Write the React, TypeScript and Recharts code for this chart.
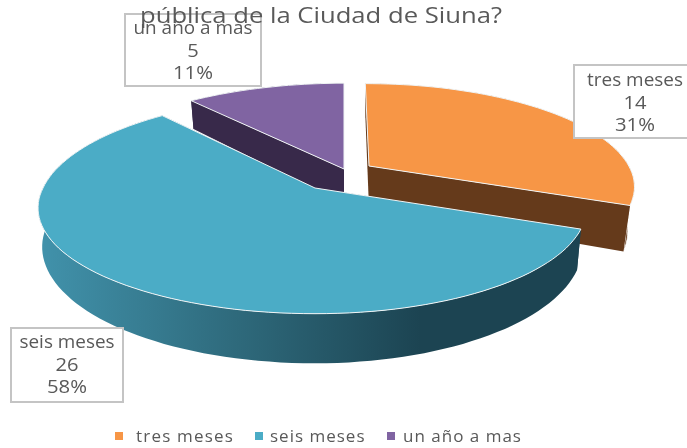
/**
 * 3D exploded pie: survey answers by time period.
 * Recharts gives each slice its angles, the custom shape projects them in perspective.
 */
import { PieChart, Pie, Legend } from 'recharts'

const categories = ['tres meses', 'seis meses', 'un año a mas']
const values = [14, 26, 5]
const topColors = ['#F79646', '#4BACC6', '#8064A2']
const wallColors = ['#653A1B', 'url(#blueRim)', '#38294A']
// purple is painted first, blue last, so the blue top hides the walls behind it
const drawOrder = [2, 0, 1]

const total = values.reduce((a, b) => a + b, 0)
const pieData = drawOrder.map((i) => ({
  name: categories[i],
  value: values[i],
  fill: topColors[i],
  wall: wallColors[i],
  idx: i,
}))

const CX = 340
const CY = 175
const RADIUS = 272
const PERSP = 0.1887
const RY = 102

// explode offset, size and small distortions of each slice
const sliceOx = [29, -25, 4]
const sliceOy = [-9, 13, -6]
const sliceScale = [0.96, 1, 1]
const sliceDepth = [42, 37, 35]
const sliceSkew = [0.045, 0, 0]
const sliceRight = [0.995, 0.98, 0.99]
const sliceBack = [1, 1.06, 1]
const sliceFloorX = [0.975, 0.985, 0.985]

const labelBoxes = [
  { x: 574, y: 65, w: 125, h: 73, tx: 635, base: 86, len: 96 },
  { x: 11, y: 328, w: 112, h: 74, tx: 67, base: 348, len: 95 },
  { x: 125, y: 14, w: 136, h: 72, tx: 193, base: 34, len: 119 },
]

function project(thetaDeg: number, i: number, bottom: boolean) {
  const t = (thetaDeg * Math.PI) / 180
  const w = 1 + PERSP * Math.sin(t)
  const s = sliceScale[i]
  let x = (s * RADIUS * Math.cos(t)) / w
  let y = (-s * RY * Math.sin(t)) / w
  if (x > 0) x *= sliceRight[i]
  if (y < 0) y *= sliceBack[i]
  x += y * sliceSkew[i]
  const ox = CX + sliceOx[i]
  const oy = CY + sliceOy[i]
  if (bottom) return [ox + x * sliceFloorX[i], oy + sliceDepth[i] + y * 1.1]
  return [ox + x, oy + y]
}

function toPath(pts: number[][]) {
  return 'M' + pts.map((p) => `${p[0].toFixed(1)},${p[1].toFixed(1)}`).join('L') + 'Z'
}

function Slice3D(props: any) {
  const { startAngle, endAngle, payload } = props
  const i = payload.idx
  const arc: number[] = []
  const steps = Math.ceil(Math.abs(endAngle - startAngle) / 2)
  for (let s = 0; s <= steps; s++) arc.push(startAngle + ((endAngle - startAngle) * s) / steps)

  const apex = [CX + sliceOx[i], CY + sliceOy[i]]
  const apexB = [apex[0], apex[1] + sliceDepth[i]]

  const topArc = arc.map((a) => project(a, i, false))
  const bottomArc = arc.map((a) => project(a, i, true))
  const last = arc.length - 1

  return (
    <g>
      <path
        d={toPath([...topArc, ...[...bottomArc].reverse()])}
        fill={payload.wall}
        stroke={i === 0 ? '#ffffff' : 'none'}
        strokeWidth={0.8}
      />
      <path d={toPath([apex, topArc[0], bottomArc[0], apexB])} fill={payload.wall} />
      <path d={toPath([apex, topArc[last], bottomArc[last], apexB])} fill={payload.wall} />
      <path d={toPath([apex, ...topArc])} fill={payload.fill} stroke="#f0f4f5" strokeWidth={1} />
    </g>
  )
}

function SliceLabel(props: any) {
  const i = props.payload ? props.payload.idx : props.idx
  const b = labelBoxes[i]
  const pct = `${Math.round((values[i] / total) * 100)}%`
  const textProps = {
    textAnchor: 'middle' as const,
    fontFamily: 'Open Sans',
    fontSize: 18,
    fill: '#595959',
    lengthAdjust: 'spacingAndGlyphs' as const,
  }
  return (
    <g>
      <rect x={b.x} y={b.y} width={b.w} height={b.h} fill="#ffffff" stroke="#c4c4c4" strokeWidth={2} />
      <text x={b.tx} y={b.base} textLength={b.len} {...textProps}>
        {categories[i]}
      </text>
      <text x={b.tx} y={b.base + 23} textLength={String(values[i]).length * 11.5} {...textProps}>
        {values[i]}
      </text>
      <text x={b.tx} y={b.base + 45} textLength={40} {...textProps}>
        {pct}
      </text>
    </g>
  )
}

function LegendRow() {
  return (
    <div style={{ position: 'relative', height: 24, fontFamily: 'Open Sans', fontSize: 17, color: '#595959' }}>
      {categories.map((c, i) => (
        <span key={c}>
          <span
            style={{
              position: 'absolute',
              left: [115, 255, 387][i],
              top: 8,
              width: 8,
              height: 8,
              background: topColors[i],
            }}
          />
          <span
            style={{
              position: 'absolute',
              left: [136, 270, 403][i],
              top: 0,
              lineHeight: '24px',
              whiteSpace: 'nowrap',
              letterSpacing: [1.2, 1, 1][i],
            }}
          >
            {c}
          </span>
        </span>
      ))}
    </div>
  )
}

export default function App() {
  return (
    <div style={{ position: 'absolute', left: 0, top: 0, width: 687, height: 448, overflow: 'hidden', filter: 'blur(0.35px)' }}>
      <PieChart width={687} height={448} margin={{ top: 0, right: 0, bottom: 0, left: 0 }}>
        <defs>
          <linearGradient id="blueRim" gradientUnits="userSpaceOnUse" x1={40} y1={0} x2={420} y2={0}>
            <stop offset="0%" stopColor="#4192AB" />
            <stop offset="50%" stopColor="#2F6B7D" />
            <stop offset="100%" stopColor="#1C4452" />
          </linearGradient>
        </defs>
        <Pie
          data={pieData}
          dataKey="value"
          nameKey="name"
          cx={CX}
          cy={CY}
          outerRadius={RADIUS}
          startAngle={90 + (360 * values[2]) / total}
          endAngle={90 + (360 * values[2]) / total - 360}
          stroke="none"
          shape={Slice3D}
          label={SliceLabel}
          labelLine={false}
          isAnimationActive={false}
        />
        <Legend
          content={LegendRow}
          wrapperStyle={{ position: 'absolute', left: 0, top: 424, width: 687, height: 24 }}
        />
      </PieChart>
      <svg width={687} height={40} style={{ position: 'absolute', left: 0, top: 0 }}>
        <text x={140} y={23} textLength={362} lengthAdjust="spacingAndGlyphs" fontFamily="Open Sans" fontSize={22} fill="#595959">
          pública de la Ciudad de Siuna?
        </text>
      </svg>
    </div>
  )
}
